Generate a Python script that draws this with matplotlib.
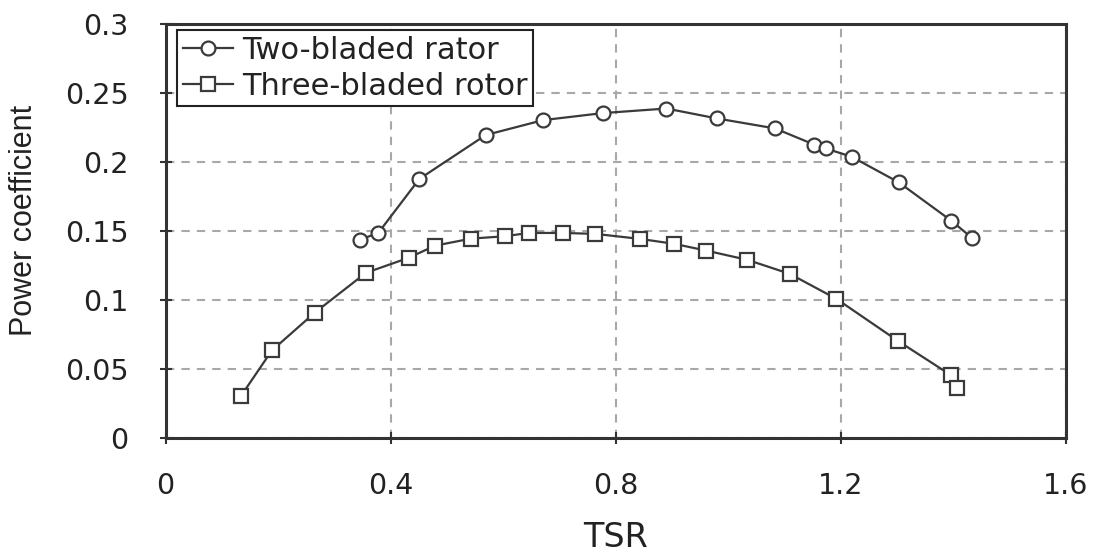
import matplotlib
matplotlib.use("Agg")
import matplotlib.pyplot as plt

# Tip speed ratio vs. power coefficient for the two rotor designs
tsr_two = [0.346, 0.378, 0.451, 0.569, 0.671, 0.777, 0.890, 0.980,
           1.083, 1.153, 1.173, 1.219, 1.303, 1.396, 1.433]
cp_two = [0.1439, 0.1487, 0.1878, 0.2196, 0.2304, 0.2355, 0.2388, 0.2316,
          0.2244, 0.2126, 0.2099, 0.2039, 0.1853, 0.1576, 0.1451]

tsr_three = [0.134, 0.189, 0.265, 0.356, 0.432, 0.479, 0.543, 0.603,
             0.645, 0.707, 0.764, 0.843, 0.904, 0.961, 1.034, 1.109,
             1.192, 1.301, 1.396, 1.407]
cp_three = [0.0306, 0.0636, 0.0909, 0.1198, 0.1307, 0.1395, 0.1446, 0.1463,
            0.1487, 0.1487, 0.1480, 0.1444, 0.1408, 0.1359, 0.1292, 0.1191,
            0.1010, 0.0706, 0.0456, 0.0364]

x_ticks = [0, 0.4, 0.8, 1.2, 1.6]
x_tick_labels = ["0", "0.4", "0.8", "1.2", "1.6"]
y_ticks = [0, 0.05, 0.1, 0.15, 0.2, 0.25, 0.3]
y_tick_labels = ["0", "0.05", "0.1", "0.15", "0.2", "0.25", "0.3"]

label_two = "Two-bladed rator"
label_three = "Three-bladed rotor"
x_label = "TSR"
y_label = "Power coefficient"

plt.rcParams["font.family"] = "DejaVu Sans"

fig = plt.figure(figsize=(10.94, 5.52), dpi=100)
ax = fig.add_axes([0.1513, 0.2060, 0.8231, 0.7505])

line_col = "#3a3a3a"
ax.plot(tsr_two, cp_two, color=line_col, lw=1.6, marker="o", ms=10,
        mfc="white", mec=line_col, mew=1.6, label=label_two, zorder=3)
ax.plot(tsr_three, cp_three, color=line_col, lw=1.6, marker="s", ms=10.5,
        mfc="white", mec=line_col, mew=1.6, label=label_three, zorder=3)

ax.set_xlim(0, 1.6)
ax.set_ylim(0, 0.3)
ax.set_xticks(x_ticks)
ax.set_xticklabels(x_tick_labels)
ax.set_yticks(y_ticks)
ax.set_yticklabels(y_tick_labels)

ax.grid(True, color="#a8a8a8", lw=1.5, dashes=(4, 3.4))
ax.set_axisbelow(True)

for sp in ax.spines.values():
    sp.set_color("#333333")
    sp.set_linewidth(2.2)

ax.tick_params(axis="both", direction="inout", length=9, width=1.5,
               color="#333333", labelsize=20.5, labelcolor="#222222")
ax.tick_params(axis="y", pad=22)
ax.tick_params(axis="x", pad=20)

ax.set_xlabel(x_label, fontsize=24, color="#222222")
ax.xaxis.set_label_coords(0.5, -0.2)
ax.set_ylabel(y_label, fontsize=22, family="Liberation Sans", color="#222222")
ax.yaxis.set_label_coords(-0.141, 0.525)

leg = ax.legend(loc="upper left", bbox_to_anchor=(0.006, 1), fontsize=22,
                frameon=True, fancybox=False, edgecolor="#222222",
                handlelength=1.65, handletextpad=0.3, borderaxespad=0.2,
                borderpad=0.18, labelspacing=0.24, framealpha=1)
leg.get_frame().set_linewidth(1.5)
for t in leg.get_texts():
    t.set_color("#222222")

fig.savefig("out.png", dpi=100)
